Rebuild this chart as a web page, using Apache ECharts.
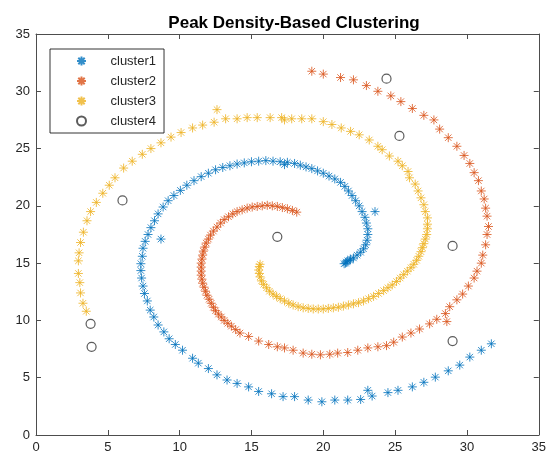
<!DOCTYPE html>
<html><head><meta charset="utf-8">
<script src="https://cdn.jsdelivr.net/npm/echarts@6/dist/echarts.min.js"></script>
<style>html,body{margin:0;padding:0;background:#fff}#c{width:549px;height:458px}</style>
</head><body><div id="c"></div>
<script>
// ---- data ----
const seriesNames = ['cluster1', 'cluster2', 'cluster3', 'cluster4'];
const xTicks = [0, 5, 10, 15, 20, 25, 30, 35];
const yTicks = [0, 5, 10, 15, 20, 25, 30, 35];

const cluster1 = [
[31.7,7.96],[31.0,7.4],[30.2,6.8],[29.5,6.1],[28.7,5.6],[27.8,5.05],[27.0,4.6],[26.2,4.2],[25.2,3.9],[24.5,3.7],
[23.4,3.4],[23.1,3.9],[22.6,3.1],[21.7,3.05],[20.8,3.05],[19.9,2.9],[18.95,3.05],[18.0,3.35],[17.2,3.35],[16.4,3.6],
[15.5,3.8],[14.8,4.2],[14.0,4.5],[13.3,4.8],[12.6,5.25],[12.0,5.8],[11.3,6.27],[10.9,6.7],[10.2,7.4],[9.7,7.9],
[9.27,8.4],[8.9,9.0],[8.5,9.6],[8.2,10.3],[7.95,10.9],[7.75,11.7],[7.55,12.35],[7.45,13.0],[7.35,13.7],[7.3,14.35],
[7.3,14.95],[7.4,15.6],[7.45,16.3],[7.6,16.9],[7.8,17.5],[8.0,18.1],[8.25,18.7],[8.5,19.3],[8.85,19.9],[9.2,20.45],
[9.6,20.9],[10.05,21.35],[10.5,21.8],[11.0,22.2],[11.5,22.55],[12.0,22.85],[12.5,23.15],[13.0,23.35],[13.5,23.5],[14.0,23.65],
[14.5,23.75],[15.0,23.85],[15.5,23.9],[16.0,23.95],[16.5,23.9],[17.0,23.85],[17.3,23.6],[17.5,23.8],[18.0,23.7],[18.4,23.55],
[18.8,23.4],[19.2,23.25],[19.6,23.05],[20.0,22.85],[20.4,22.6],[20.8,22.35],[21.2,22.05],[21.5,21.7],[21.75,21.3],[22.0,20.9],
[22.25,20.45],[22.5,20.0],[22.7,19.5],[23.6,19.5],[22.9,19.0],[23.0,18.5],[23.1,18.0],[23.1,17.5],[23.05,17.0],[22.95,16.6],
[22.8,16.25],[22.6,15.95],[22.35,15.7],[22.1,15.45],[21.9,15.35],[21.85,15.25],[21.7,15.2],[21.6,15.1],[21.55,15.0],[21.45,14.95],
[8.7,17.1]
];

const cluster2 = [
[19.2,31.75],[20.0,31.5],[21.2,31.2],[22.1,31.0],[23.0,30.5],[23.8,30.0],[24.7,29.6],[25.4,29.1],[26.2,28.5],[27.0,27.9],
[27.7,27.5],[28.1,26.7],[28.7,25.95],[29.3,25.2],[29.8,24.4],[30.2,23.7],[30.5,22.9],[30.8,22.2],[31.0,21.3],[31.2,20.6],
[31.3,19.8],[31.4,19.1],[31.5,18.2],[31.4,17.5],[31.3,16.6],[31.1,15.7],[31.0,15.0],[30.7,14.3],[30.5,13.7],[30.1,13.0],
[29.7,12.3],[29.3,11.8],[28.8,11.2],[28.5,10.6],[28.6,9.9],[27.9,10.1],[27.4,9.7],[26.7,9.25],[26.1,8.9],[25.5,8.55],
[24.9,8.1],[24.4,7.8],[23.8,7.7],[23.1,7.6],[22.4,7.4],[21.7,7.2],[21.0,7.15],[20.45,7.05],[19.8,7.0],[19.2,7.05],
[18.6,7.15],[17.9,7.4],[17.3,7.6],[16.8,7.7],[16.2,7.9],[15.5,8.2],[14.8,8.6],[14.2,8.9],[13.9,9.2],[13.6,9.5],
[13.35,9.75],[13.1,10.0],[12.9,10.3],[12.7,10.55],[12.5,10.85],[12.35,11.15],[12.2,11.5],[12.05,11.85],[11.9,12.2],[11.8,12.55],
[11.7,12.9],[11.6,13.25],[11.55,13.6],[11.5,13.95],[11.5,14.3],[11.5,14.65],[11.5,15.0],[11.55,15.35],[11.6,15.7],[11.65,16.05],
[11.75,16.4],[11.85,16.75],[12.0,17.1],[12.15,17.45],[12.35,17.8],[12.6,18.15],[12.85,18.5],[13.1,18.8],[13.4,19.05],[13.7,19.3],
[14.0,19.5],[14.35,19.65],[14.7,19.8],[15.05,19.9],[15.4,19.95],[15.75,20.0],[16.1,20.05],[16.45,20.0],[16.8,19.95],[17.15,19.85],
[17.5,19.75],[17.85,19.6],[18.15,19.45]
];

const cluster3 = [
[3.5,10.8],[3.27,11.5],[3.1,12.4],[3.05,13.3],[2.95,14.1],[2.95,15.2],[3.0,15.9],[3.1,16.8],[3.3,17.7],[3.55,18.7],
[3.8,19.5],[4.2,20.3],[4.65,21.1],[5.1,21.8],[5.5,22.45],[6.1,23.3],[6.7,23.9],[7.4,24.5],[8.0,25.0],[8.7,25.5],
[9.4,26.0],[10.1,26.4],[10.9,26.8],[11.6,27.05],[12.4,27.3],[12.6,28.4],[13.2,27.6],[14.0,27.6],[14.7,27.7],[15.4,27.7],
[16.3,27.7],[17.1,27.7],[17.3,27.5],[17.8,27.6],[18.5,27.6],[19.2,27.6],[20.0,27.35],[20.6,27.1],[21.25,26.8],[21.9,26.5],
[22.5,26.2],[23.2,25.75],[23.8,25.2],[24.1,24.9],[24.6,24.35],[25.2,23.9],[25.5,23.5],[25.9,23.0],[26.0,22.45],[26.4,21.9],
[26.6,21.3],[26.8,20.7],[27.0,20.1],[27.1,19.5],[27.25,18.95],[27.25,18.4],[27.25,18.0],[27.2,17.5],[27.1,17.1],[27.0,16.7],
[26.9,16.35],[26.8,16.0],[26.65,15.6],[26.5,15.25],[26.3,14.9],[26.1,14.6],[25.85,14.3],[25.6,14.0],[25.35,13.7],[25.1,13.4],
[24.8,13.1],[24.5,12.85],[24.2,12.6],[23.85,12.35],[23.5,12.1],[23.15,11.9],[22.8,11.7],[22.45,11.55],[22.1,11.45],[21.75,11.35],
[21.4,11.25],[21.05,11.15],[20.7,11.1],[20.35,11.05],[20.0,11.0],[19.65,11.0],[19.3,11.0],[18.95,11.05],[18.6,11.1],[18.25,11.2],
[17.9,11.35],[17.6,11.5],[17.3,11.7],[17.0,11.9],[16.75,12.1],[16.5,12.3],[16.25,12.55],[16.05,12.85],[15.85,13.15],[15.7,13.45],
[15.6,13.8],[15.55,14.1],[15.5,14.4],[15.55,14.7],[15.6,14.9]
];

const cluster4 = [
[3.8,9.7],[3.87,7.7],[6.02,20.47],[16.8,17.3],[24.4,31.1],[25.3,26.1],[29.0,16.5],[29.0,8.2]
];

// ---- chart ----
const colors = ['#0072BD', '#D95319', '#EDB120', '#333333'];
const star = 'path://M0,-10L0,10M-10,0L10,0M-7.1,-7.1L7.1,7.1M-7.1,7.1L7.1,-7.1';
const fontFam = '"Liberation Sans", Arial, Helvetica, sans-serif';
const axisCol = '#4d4d4d';
const labelCol = '#262626';

function starSeries(name, data, col) {
  return {
    name: name, type: 'scatter', data: data, symbol: star, symbolSize: 9,
    itemStyle: { color: 'transparent', borderColor: col, borderWidth: 1 },
    emphasis: { disabled: true }
  };
}

function xAx(pos, showLabel) {
  return {
    type: 'value', position: pos, min: xTicks[0], max: xTicks[xTicks.length - 1], interval: 5,
    axisLine: { show: true, onZero: false, lineStyle: { color: axisCol, width: 1 } },
    axisTick: { show: true, inside: true, length: 5, lineStyle: { color: axisCol } },
    axisLabel: { show: showLabel, margin: 6, fontFamily: fontFam, fontSize: 13, color: labelCol },
    splitLine: { show: false }
  };
}
function yAx(pos, showLabel) {
  return {
    type: 'value', position: pos, min: yTicks[0], max: yTicks[yTicks.length - 1], interval: 5,
    axisLine: { show: true, onZero: false, lineStyle: { color: axisCol, width: 1 } },
    axisTick: { show: true, inside: true, length: 5, lineStyle: { color: axisCol } },
    axisLabel: { show: showLabel, margin: 6, fontFamily: fontFam, fontSize: 13, color: labelCol },
    splitLine: { show: false }
  };
}

const chart = echarts.init(document.getElementById('c'), null, { renderer: 'canvas' });
chart.setOption({
  animation: false,
  title: {
    text: 'Peak Density-Based Clustering', left: 289, textAlign: 'center', top: 10,
    textStyle: { fontFamily: fontFam, fontSize: 17, fontWeight: 'bold', color: '#000' }
  },
  grid: { left: 36, right: 8, top: 34, bottom: 23, containLabel: false },
  legend: {
    orient: 'vertical', left: 50, top: 49,
    padding: [5.5, 8, 5.5, 26], itemGap: 7, itemWidth: 44, itemHeight: 9,
    borderColor: '#000', borderWidth: 0.8, backgroundColor: '#fff',
    textStyle: { fontFamily: fontFam, fontSize: 13, color: labelCol, padding: [0, 0, 0, 2] },
    data: seriesNames, selectedMode: false
  },
  xAxis: [xAx('bottom', true), xAx('top', false)],
  yAxis: [yAx('left', true), yAx('right', false)],
  series: [
    starSeries(seriesNames[0], cluster1, colors[0]),
    starSeries(seriesNames[1], cluster2, colors[1]),
    starSeries(seriesNames[2], cluster3, colors[2]),
    {
      name: seriesNames[3], type: 'scatter', data: cluster4, symbol: 'circle', symbolSize: 9,
      itemStyle: { color: 'transparent', borderColor: colors[3], borderWidth: 1.2 },
      emphasis: { disabled: true }
    }
  ]
});
</script>
</body></html>
